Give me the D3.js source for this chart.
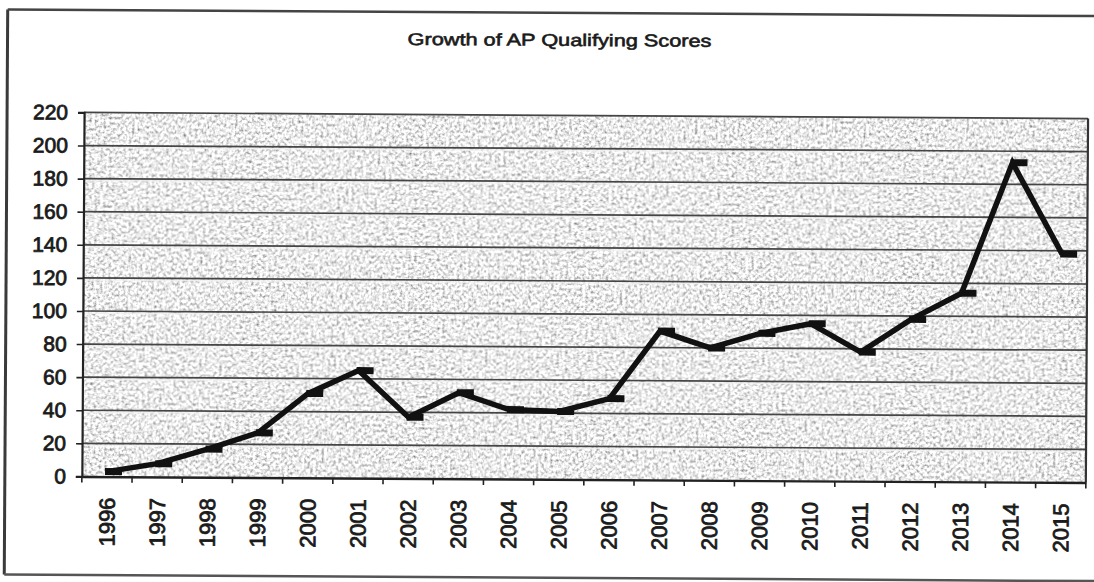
<!DOCTYPE html>
<html>
<head>
<meta charset="utf-8">
<script src="https://cdn.jsdelivr.net/npm/d3@7"></script>
<style>
  html, body { margin: 0; padding: 0; background: #fff; }
  svg { display: block; }
  text { font-family: "Liberation Sans", Arial, sans-serif; fill: #1a1a1a; }
</style>
</head>
<body>
<svg id="chart" width="1094" height="582"></svg>
<script>
const title = "Growth of AP Qualifying Scores";
const years = ["1996","1997","1998","1999","2000","2001","2002","2003","2004","2005",
               "2006","2007","2008","2009","2010","2011","2012","2013","2014","2015"];
const values = [3, 8, 17, 27, 51, 65, 37, 52, 42, 41, 49, 90, 80, 89, 95, 78, 98, 114, 193, 138];
const yTicks = [0, 20, 40, 60, 80, 100, 120, 140, 160, 180, 200, 220];

const W = 1094, H = 582;
const plot = { left: 83, right: 1087, top: 115.5, bottom: 479.5 };

const svg = d3.select("#chart");
const defs = svg.append("defs");
const f = defs.append("filter").attr("id", "noise")
  .attr("x", 0).attr("y", 0).attr("width", "100%").attr("height", "100%");
f.append("feTurbulence").attr("type", "fractalNoise").attr("baseFrequency", 0.35)
  .attr("numOctaves", 2).attr("seed", 11).attr("result", "t");
f.append("feColorMatrix").attr("in", "t").attr("type", "matrix")
  .attr("values", "1.7 0 0 0 -0.02  1.7 0 0 0 -0.02  1.7 0 0 0 -0.02  0 0 0 0 1");

// slight scan skew
const g = svg.append("g").attr("transform", `rotate(0.35 ${W/2 + 38} ${H/2})`);

const x = d3.scaleBand().domain(years).range([plot.left, plot.right]);
const y = d3.scaleLinear().domain([0, 220]).range([plot.bottom, plot.top]);

// outer frame
g.append("line").attr("x1", 6).attr("x2", 6).attr("y1", 13).attr("y2", 578)
  .attr("stroke", "#3a3a3a").attr("stroke-width", 3);
g.append("line").attr("x1", 6).attr("x2", 1110).attr("y1", 13).attr("y2", 13)
  .attr("stroke", "#444").attr("stroke-width", 2.5);
g.append("line").attr("x1", 6).attr("x2", 1110).attr("y1", 578).attr("y2", 578)
  .attr("stroke", "#555").attr("stroke-width", 2.5);

// title
g.append("text").attr("x", 558).attr("y", 46).attr("text-anchor", "middle")
  .attr("font-size", 17).attr("textLength", 304).attr("lengthAdjust", "spacingAndGlyphs")
  .style("stroke", "#1a1a1a").style("stroke-width", 0.6)
  .text(title);

// plot background
g.append("rect").attr("x", plot.left).attr("y", plot.top)
  .attr("width", plot.right - plot.left).attr("height", plot.bottom - plot.top)
  .attr("fill", "#cacaca");
g.append("rect").attr("x", plot.left).attr("y", plot.top)
  .attr("width", plot.right - plot.left).attr("height", plot.bottom - plot.top)
  .attr("filter", "url(#noise)");

// gridlines (dark line with light halo below, as in the scan)
const grid = g.append("g");
grid.selectAll("line.hl").data(yTicks.slice(1, -1)).join("line").attr("class", "hl")
  .attr("x1", plot.left).attr("x2", plot.right)
  .attr("y1", d => y(d) + 2).attr("y2", d => y(d) + 2)
  .attr("stroke", "#f2f2f2").attr("stroke-width", 1.5).attr("opacity", 0.8);
grid.selectAll("line.gl").data(yTicks.slice(1)).join("line").attr("class", "gl")
  .attr("x1", plot.left).attr("x2", plot.right)
  .attr("y1", d => y(d)).attr("y2", d => y(d))
  .attr("stroke", "#454545").attr("stroke-width", 1.7);

// plot border (right)
g.append("line").attr("x1", plot.right).attr("x2", plot.right)
  .attr("y1", plot.top).attr("y2", plot.bottom)
  .attr("stroke", "#333").attr("stroke-width", 2.2);

// y axis
const yAxis = g.append("g").attr("transform", `translate(${plot.left},0)`)
  .call(d3.axisLeft(y).tickValues(yTicks).tickSize(6).tickPadding(10));
yAxis.select(".domain").attr("stroke", "#222").attr("stroke-width", 2.2);
yAxis.selectAll(".tick line").attr("stroke", "#222").attr("stroke-width", 1.6);
yAxis.selectAll("text").attr("font-size", 21).style("stroke", "#1a1a1a").style("stroke-width", 0.8)
  .attr("font-family", "Liberation Sans, Arial, sans-serif");

// x axis
const xAxis = g.append("g").attr("transform", `translate(0,${plot.bottom})`)
  .call(d3.axisBottom(x).tickSize(0).tickPadding(0));
xAxis.select(".domain").attr("stroke", "#222").attr("stroke-width", 2.4);
xAxis.selectAll(".tick text")
  .attr("font-size", 22).attr("font-family", "Liberation Sans, Arial, sans-serif")
  .attr("text-anchor", "end")
  .attr("transform", "translate(0,21) rotate(-90)")
  .attr("x", 0).attr("y", 0).attr("dy", "0.36em")
  .style("stroke", "#1a1a1a").style("stroke-width", 0.8);
// boundary ticks
const bounds = years.map(d => x(d)).concat([x.range()[1]]);
g.append("g").selectAll("line").data(bounds).join("line")
  .attr("x1", d => d).attr("x2", d => d)
  .attr("y1", plot.bottom).attr("y2", plot.bottom + 6)
  .attr("stroke", "#222").attr("stroke-width", 1.6);

// line
const cx = d => x(d) + x.bandwidth() / 2;
const data = years.map((yr, i) => ({ yr, v: values[i] }));
g.append("path").datum(data)
  .attr("fill", "none").attr("stroke", "#111").attr("stroke-width", 5.5)
  .attr("stroke-linejoin", "miter")
  .attr("d", d3.line().x(d => cx(d.yr)).y(d => y(d.v)));

// dash markers
g.append("g").selectAll("rect").data(data).join("rect")
  .attr("x", d => cx(d.yr) - 2).attr("y", d => y(d.v) - 3.5)
  .attr("width", 17).attr("height", 7).attr("fill", "#111");
</script>
</body>
</html>
